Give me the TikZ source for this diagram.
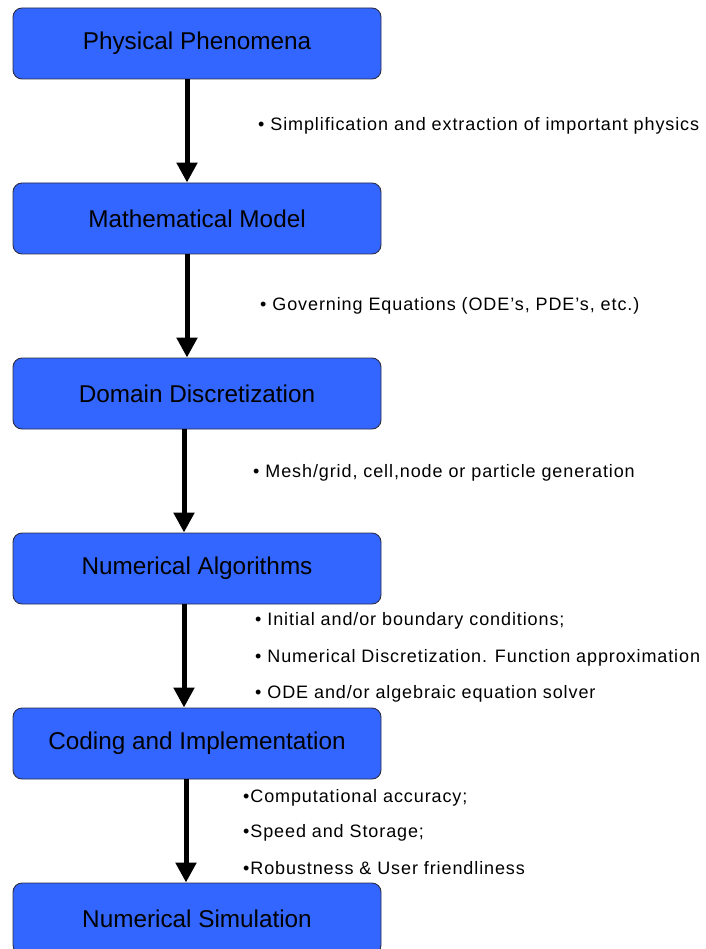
\documentclass[tikz,border=0pt]{standalone}
\usepackage{fontspec}
\setmainfont{Liberation Sans}
\usetikzlibrary{arrows.meta,positioning}

\definecolor{stagefill}{RGB}{51,102,255}
\definecolor{stageline}{RGB}{45,45,70}

\begin{document}
\begin{tikzpicture}[
		x=1pt, y=-1pt,
		stage/.style={draw=stageline, line width=0.9pt, fill=stagefill, rounded corners=9pt, minimum width=368pt, minimum height=71pt, inner sep=0pt, font=\fontsize{24.3}{28}\selectfont},
		note/.style={anchor=west, inner sep=0pt, font=\fontsize{18}{22}\selectfont\addfontfeatures{LetterSpace=5}},
		flow/.style={line width=5pt, -{Triangle[width=20pt,length=20pt]}},
		node distance=103.1pt
		]
		\useasboundingbox (0,0) rectangle (705,949);

		% modelling chain, top to bottom
		\node[stage] (phys) at (197,43.5) {Physical Phenomena};
		\node[stage,below=of phys] (model) {Mathematical Model};
		\node[stage,below=of model] (discr) {Domain Discretization};
		\node[stage,below=of discr] (algo) {Numerical Algorithms};
		\node[stage,below=of algo] (code) {Coding and Implementation};
		\node[stage,below=of code] (sim) {Numerical Simulation};

		\draw[flow] ([xshift=-10pt]phys.south) -- ([xshift=-10pt]model.north);
		\draw[flow] ([xshift=-10pt]model.south) -- ([xshift=-10pt]discr.north);
		\draw[flow] ([xshift=-13pt]discr.south) -- ([xshift=-13pt]algo.north);
		\draw[flow] ([xshift=-13pt]algo.south) -- ([xshift=-13pt]code.north);
		\draw[flow] ([xshift=-11pt]code.south) -- ([xshift=-11pt]sim.north);

		% remarks beside the arrows
		\node[note] (simpl) at (258,126) {• Simplification and extraction of important physics};
		\node[note] (goveq) at (260,306) {• Governing Equations (ODE’s, PDE’s, etc.)};
		\node[note] (mesh) at (253,473) {• Mesh/grid, cell,node or particle generation};
		\node[note] (bc) at (255,621) {• Initial and/or boundary conditions;};
		\node[note] (approx) at (255,658) {• Numerical Discretization. Function approximation};
		\node[note] (solver) at (255,694) {• ODE and/or algebraic equation solver};
		\node[note] (acc) at (243,798) {•Computational accuracy;};
		\node[note] (speed) at (243,833) {•Speed and Storage;};
		\node[note] (robust) at (243,868) {•Robustness \& User friendliness};
	\end{tikzpicture}
\end{document}
